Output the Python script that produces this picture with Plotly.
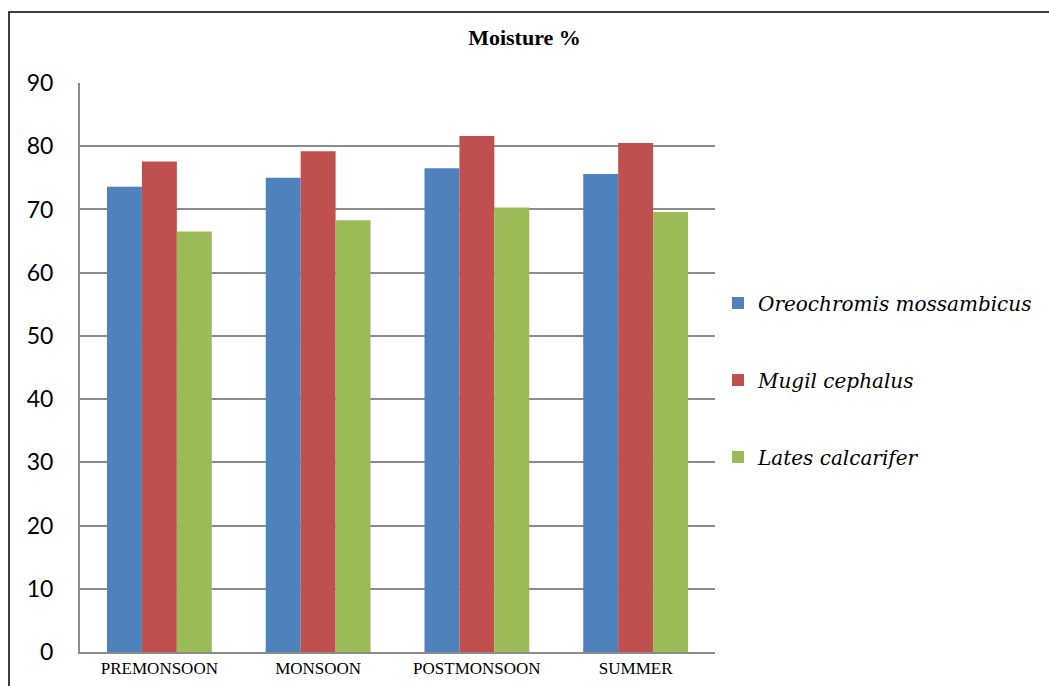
import plotly.graph_objects as go

seasons = ["PREMONSOON", "MONSOON", "POSTMONSOON", "SUMMER"]
oreochromis = [73.6, 75.0, 76.5, 75.6]
mugil = [77.6, 79.2, 81.6, 80.5]
lates = [66.5, 68.3, 70.3, 69.6]

series = [
    ("Oreochromis mossambicus", oreochromis, "#4F81BD"),
    ("Mugil cephalus", mugil, "#C0504D"),
    ("Lates calcarifer", lates, "#9BBB59"),
]

fig = go.Figure()
for i, (name, vals, color) in enumerate(series):
    fig.add_trace(go.Bar(
        x=seasons, y=vals, name=name,
        marker=dict(color=color, line=dict(width=0)),
        legendgroup=f"g{i}",
    ))

W, H = 1049, 686
ml, mr, mt, mb = 80, W - 715, 83, H - 652
pw, ph = W - ml - mr, H - mt - mb

def px_x(x):
    return (x - ml) / pw

def px_y(y):
    return (H - mb - y) / ph

fig.update_layout(
    width=W, height=H,
    margin=dict(l=ml, r=mr, t=mt, b=mb, pad=0, autoexpand=False),
    paper_bgcolor="white", plot_bgcolor="white",
    barmode="group", bargap=0.34, bargroupgap=0,
    title=dict(text="<b>Moisture %</b>", x=0.5, xanchor="center",
               y=1 - 37 / H, yanchor="middle",
               font=dict(family="Liberation Serif", size=22, color="black")),
    xaxis=dict(
        showgrid=False, showline=True, linecolor="#8c8c8c", linewidth=2,
        ticks="", tickfont=dict(family="Liberation Serif", size=17, color="black"),
        fixedrange=True, automargin=False,
    ),
    yaxis=dict(
        range=[0, 90], dtick=10, showgrid=True, gridcolor="#8c8c8c", gridwidth=2,
        showline=True, linecolor="#8c8c8c", linewidth=2, zeroline=False,
        ticks="", ticklabelstandoff=20, automargin=False,
        tickfont=dict(family="Lato", size=23, color="black"),
    ),
    legend=dict(
        x=px_x(718), xanchor="left", y=px_y(380), yanchor="middle",
        font=dict(family="DejaVu Serif", size=20, color="black", style="italic"),
        tracegroupgap=48, bgcolor="rgba(0,0,0,0)",
    ),
    shapes=[dict(
        type="rect", xref="paper", yref="paper",
        x0=px_x(9), x1=px_x(W + 20), y0=px_y(H + 20), y1=px_y(12),
        line=dict(color="black", width=1.5), layer="below",
    )],
)

fig.write_html("out.html")
